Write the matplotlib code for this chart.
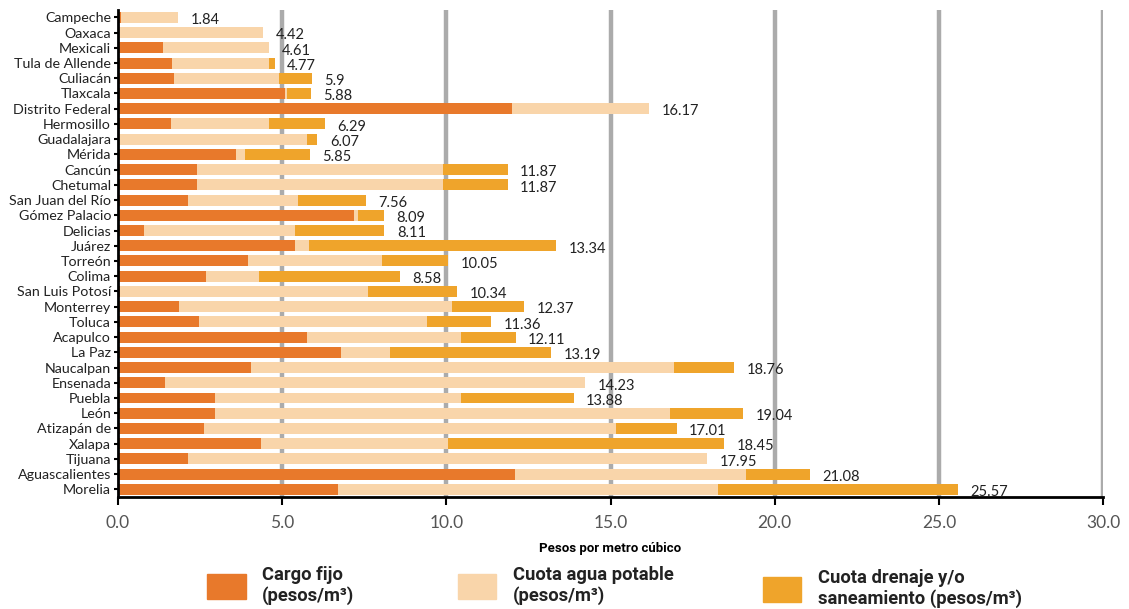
import numpy as np
import matplotlib
matplotlib.use("Agg")
import matplotlib.pyplot as plt
from matplotlib.patches import Patch

# datos (pesos por metro cubico), de arriba hacia abajo
ciudades = ["Campeche", "Oaxaca", "Mexicali", "Tula de Allende", "Culiacán", "Tlaxcala",
            "Distrito Federal", "Hermosillo", "Guadalajara", "Mérida", "Cancún", "Chetumal",
            "San Juan del Río", "Gómez Palacio", "Delicias", "Juárez", "Torreón", "Colima",
            "San Luis Potosí", "Monterrey", "Toluca", "Acapulco", "La Paz", "Naucalpan",
            "Ensenada", "Puebla", "León", "Atizapán de", "Xalapa", "Tijuana",
            "Aguascalientes", "Morelia"]
cargo_fijo = [0.10, 0.00, 1.38, 1.66, 1.70, 5.10, 12.00, 1.60, 0.00, 3.60, 2.40, 2.40,
              2.14, 7.18, 0.79, 5.38, 3.97, 2.68, 0.05, 1.87, 2.47, 5.77, 6.80, 4.05,
              1.44, 2.94, 2.96, 2.63, 4.37, 2.14, 12.08, 6.69]
agua_potable = [1.74, 4.42, 3.23, 2.95, 3.20, 0.05, 4.17, 3.00, 5.77, 0.28, 7.50, 7.50,
                3.35, 0.12, 4.60, 0.45, 4.08, 1.60, 7.55, 8.30, 6.95, 4.68, 1.47, 12.87,
                12.79, 7.50, 13.85, 12.55, 5.68, 15.81, 7.05, 11.57]
drenaje = [0.00, 0.00, 0.00, 0.16, 1.00, 0.73, 0.00, 1.69, 0.30, 1.97, 1.97, 1.97,
           2.07, 0.79, 2.72, 7.51, 2.00, 4.30, 2.74, 2.20, 1.94, 1.66, 4.92, 1.84,
           0.00, 3.44, 2.23, 1.83, 8.40, 0.00, 1.95, 7.31]
etiquetas = ["1.84", "4.42", "4.61", "4.77", "5.9", "5.88", "16.17", "6.29", "6.07", "5.85",
             "11.87", "11.87", "7.56", "8.09", "8.11", "13.34", "10.05", "8.58", "10.34",
             "12.37", "11.36", "12.11", "13.19", "18.76", "14.23", "13.88", "19.04",
             "17.01", "18.45", "17.95", "21.08", "25.57"]

c_fijo = "#E8792B"
c_agua = "#F9D5AA"
c_dren = "#EFA42B"

fig = plt.figure(figsize=(11.29, 6.09), dpi=100)
ax = fig.add_axes([0.1045, 0.184, 0.8725, 0.80])

y = np.arange(len(ciudades))
cf = np.array(cargo_fijo)
ag = np.array(agua_potable)
dr = np.array(drenaje)
h = 0.72
ax.barh(y, cf, height=h, color=c_fijo, zorder=2)
ax.barh(y, ag, left=cf, height=h, color=c_agua, zorder=2)
ax.barh(y, dr, left=cf + ag, height=h, color=c_dren, zorder=2)

totales = cf + ag + dr
for yi, tot, lab in zip(y, totales, etiquetas):
    ax.annotate(lab, (tot, yi), xytext=(9, -2), textcoords="offset points",
                ha="left", va="center", fontsize=10.5, color="#222222", family="Lato")

ax.set_xlim(0, 30)
ax.set_ylim(len(ciudades) - 0.5, -0.5)
ax.set_yticks(y)
ax.set_yticklabels(ciudades, fontsize=10.3, family="Lato", color="#222222")
ax.set_xticks(np.arange(0, 31, 5))
ax.set_xticklabels([f"{v:.1f}" for v in np.arange(0, 31, 5)], fontsize=12.5,
                   family="Lato", color="#555555")
for v in np.arange(5, 31, 5):
    ax.axvline(v, color="#ABABAB", lw=3.2, zorder=1)

ax.tick_params(axis="y", length=3, width=1.5, pad=2, color="black")
ax.tick_params(axis="x", length=6, width=1.5, pad=7, color="black")
for s in ["top", "right"]:
    ax.spines[s].set_visible(False)
ax.spines["left"].set_linewidth(2)
ax.spines["bottom"].set_linewidth(2)

ax.set_xlabel("Pesos por metro cúbico", fontsize=9.5, fontweight="bold",
              family="Roboto", labelpad=8)

# leyenda
items = [(c_fijo, "Cargo fijo\n(pesos/m³)", 0.169, -0.021),
         (c_agua, "Cuota agua potable\n(pesos/m³)", 0.391, -0.021),
         (c_dren, "Cuota drenaje y/o\nsaneamiento (pesos/m³)", 0.661, -0.026)]
for col, txt, x0, y0 in items:
    lg = fig.legend(handles=[Patch(color=col, label=txt)], loc="lower left",
                    bbox_to_anchor=(x0, y0), frameon=False, handlelength=2.1,
                    handleheight=1.7, handletextpad=0.9,
                    prop={"family": "Roboto", "weight": "bold", "size": 13.2})
    for t in lg.get_texts():
        t.set_color("#222222")

fig.savefig("out.png", dpi=100)
